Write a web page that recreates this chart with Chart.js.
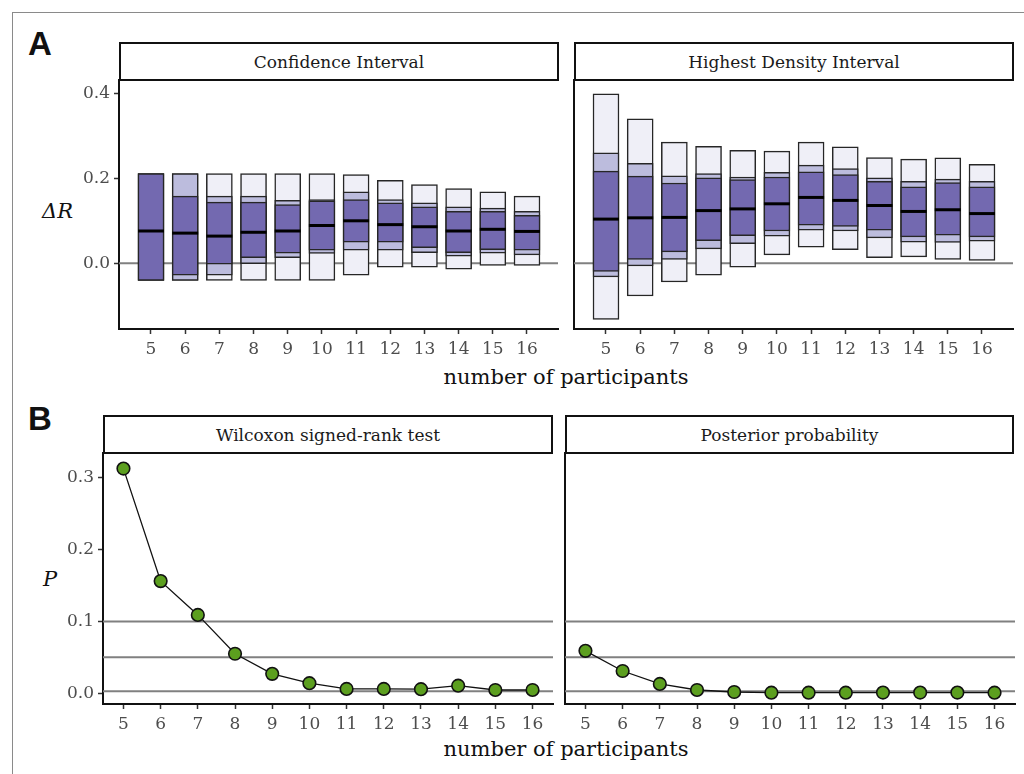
<!DOCTYPE html>
<html>
<head>
<meta charset="utf-8">
<script src="https://cdn.jsdelivr.net/npm/chart.js@4.4.1/dist/chart.umd.min.js"></script>
<style>
  body { margin: 0; background: #fff; width: 1024px; height: 774px; overflow: hidden; position: relative; font-family: 'DejaVu Serif', serif; }
  .frame { position: absolute; left: 12px; top: 12px; width: 1100px; height: 800px; border: 1.5px solid #8a8a8a; }
  .holder { position: absolute; }
  .strip { position: absolute; box-sizing: border-box; border: 2px solid #111; background: #fff; display: flex; align-items: center; justify-content: center; font-size: 17px; color: #1a1a1a; }
  .tag { position: absolute; font-family: 'Liberation Sans', sans-serif; font-weight: bold; font-size: 33px; color: #111; line-height: 1; }
  .xtitle { position: absolute; width: 400px; text-align: center; font-size: 21px; color: #111; line-height: 1; }
  .ytitle { position: absolute; font-style: italic; font-size: 21px; color: #111; line-height: 1; }
</style>
</head>
<body>
<div class="frame"></div>

<div class="tag" style="left:28px; top:27px;">A</div>
<div class="tag" style="left:28px; top:402px;">B</div>

<div class="strip" style="left:119px; top:42px; width:440px; height:39px;">Confidence Interval</div>
<div class="strip" style="left:574px; top:42px; width:440px; height:39px;">Highest Density Interval</div>
<div class="strip" style="left:103px; top:415px; width:450px; height:39px;">Wilcoxon signed-rank test</div>
<div class="strip" style="left:565px; top:415px; width:449px; height:39px;">Posterior probability</div>

<div class="ytitle" style="left:42px; top:201px;">ΔR</div>
<div class="ytitle" style="left:43px; top:569px;">P</div>
<div class="xtitle" style="left:366px; top:367px;">number of participants</div>
<div class="xtitle" style="left:366px; top:739px;">number of participants</div>

<div class="holder" style="left:60px; top:78px;"><canvas id="ci" width="500" height="300"></canvas></div>
<div class="holder" style="left:565px; top:78px;"><canvas id="hdi" width="450" height="300"></canvas></div>
<div class="holder" style="left:44px; top:451px;"><canvas id="wil" width="511" height="300"></canvas></div>
<div class="holder" style="left:556px; top:451px;"><canvas id="post" width="461" height="300"></canvas></div>

<script>
// number of participants on the x axis
const participants = [5, 6, 7, 8, 9, 10, 11, 12, 13, 14, 15, 16];

// ΔR tick values and P tick values
const deltaTicks = [0.0, 0.2, 0.4];
const pTicks = [0.0, 0.1, 0.2, 0.3];

// Confidence interval: outer, middle and inner bounds plus median
const ciOuterLo = [-0.040, -0.040, -0.040, -0.040, -0.040, -0.040, -0.028, -0.009, -0.009, -0.014, -0.005, -0.005];
const ciOuterHi = [0.211, 0.211, 0.211, 0.211, 0.211, 0.211, 0.209, 0.195, 0.185, 0.176, 0.168, 0.158];
const ciMidLo   = [-0.040, -0.040, -0.028, -0.001, 0.013, 0.023, 0.031, 0.031, 0.025, 0.017, 0.024, 0.020];
const ciMidHi   = [0.211, 0.211, 0.158, 0.158, 0.148, 0.150, 0.168, 0.150, 0.142, 0.133, 0.130, 0.122];
const ciInLo    = [-0.040, -0.028, -0.002, 0.013, 0.024, 0.031, 0.050, 0.050, 0.037, 0.025, 0.032, 0.031];
const ciInHi    = [0.211, 0.158, 0.144, 0.144, 0.138, 0.147, 0.150, 0.142, 0.133, 0.122, 0.122, 0.113];
const ciMedian  = [0.076, 0.071, 0.064, 0.073, 0.076, 0.089, 0.100, 0.091, 0.086, 0.076, 0.080, 0.075];

// Highest density interval: outer, middle and inner bounds plus median
const hdiOuterLo = [-0.132, -0.077, -0.044, -0.028, -0.009, 0.020, 0.038, 0.032, 0.013, 0.015, 0.009, 0.007];
const hdiOuterHi = [0.399, 0.340, 0.285, 0.275, 0.266, 0.264, 0.285, 0.274, 0.249, 0.245, 0.248, 0.233];
const hdiMidLo   = [-0.032, -0.006, 0.009, 0.034, 0.046, 0.064, 0.078, 0.076, 0.060, 0.050, 0.049, 0.052];
const hdiMidHi   = [0.260, 0.235, 0.206, 0.211, 0.203, 0.214, 0.231, 0.223, 0.201, 0.193, 0.198, 0.193];
const hdiInLo    = [-0.019, 0.009, 0.027, 0.053, 0.065, 0.076, 0.090, 0.087, 0.078, 0.062, 0.066, 0.062];
const hdiInHi    = [0.217, 0.205, 0.189, 0.201, 0.197, 0.203, 0.215, 0.209, 0.193, 0.180, 0.190, 0.180];
const hdiMedian  = [0.104, 0.107, 0.108, 0.124, 0.128, 0.140, 0.155, 0.148, 0.136, 0.122, 0.126, 0.117];

// p-values per number of participants
const wilcoxonP  = [0.3125, 0.156, 0.109, 0.055, 0.027, 0.014, 0.006, 0.006, 0.0057, 0.0106, 0.0046, 0.0046];
const posteriorP = [0.059, 0.031, 0.013, 0.0046, 0.0018, 0.0008, 0.0008, 0.0008, 0.001, 0.001, 0.001, 0.0008];

// reference lines
const zeroLine = [0];
const thresholds = [0.1, 0.05, 0.003];

const OUTER = '#efeff7', MIDDLE = '#bcbcdd', INNER = '#7369b0';
const TICK_FONT = { family: 'DejaVu Serif', size: 17 };

// horizontal reference lines drawn behind the marks
const refLines = {
  id: 'refLines',
  beforeDatasetsDraw(chart, args, opts) {
    const { ctx, chartArea: a, scales: { y } } = chart;
    ctx.save();
    ctx.strokeStyle = opts.color || '#808080';
    ctx.lineWidth = opts.width || 2;
    (opts.values || []).forEach(v => {
      const py = y.getPixelForValue(v);
      ctx.beginPath();
      ctx.moveTo(a.left, py);
      ctx.lineTo(a.right, py);
      ctx.stroke();
    });
    ctx.restore();
  }
};

function fixedTicks(values) {
  return scale => { scale.ticks = values.map(v => ({ value: v })); };
}

// fixed axis box size, no extra label padding pushed into the plot area
function fixedSize(prop, size) {
  return s => {
    s[prop] = size;
    s.paddingTop = 0; s.paddingBottom = 0; s.paddingLeft = 0; s.paddingRight = 0;
  };
}

function xScale(min, max, height) {
  return {
    type: 'linear', min, max, offset: false,
    afterBuildTicks: fixedTicks(participants),
    afterFit: fixedSize('height', height),
    ticks: { color: '#4d4d4d', font: TICK_FONT, padding: 5, maxRotation: 0, autoSkip: false, callback: v => String(v) },
    grid: { offset: false, drawOnChartArea: false, drawTicks: true, tickLength: 5, tickWidth: 1.5, tickColor: '#333', color: 'rgba(0,0,0,0)' },
    border: { display: true, color: '#111', width: 2 }
  };
}

function yScale(min, max, tickVals, width, showLabels) {
  return {
    type: 'linear', min, max,
    afterBuildTicks: fixedTicks(tickVals),
    afterFit: fixedSize('width', width),
    ticks: { display: showLabels, color: '#4d4d4d', font: TICK_FONT, padding: 4, callback: v => Number(v).toFixed(1) },
    grid: { drawOnChartArea: false, drawTicks: showLabels, tickLength: 5, tickWidth: 1.5, tickColor: '#333', color: 'rgba(0,0,0,0)' },
    border: { display: true, color: '#111', width: 2 }
  };
}

function intervalSet(lo, hi, color, order) {
  return {
    type: 'bar',
    data: participants.map((n, i) => ({ x: n, y: [lo[i], hi[i]] })),
    backgroundColor: color,
    borderColor: '#262626',
    borderWidth: 1.5,
    borderSkipped: false,
    barThickness: 26,
    grouped: false,
    order
  };
}

function medianSet(med) {
  return {
    type: 'line',
    data: participants.map((n, i) => ({ x: n, y: med[i] })),
    showLine: false,
    pointStyle: 'line',
    pointRadius: 13,
    pointBorderWidth: 3,
    pointBorderColor: '#000',
    pointBackgroundColor: '#000',
    order: 0
  };
}

const LAYOUT = { autoPadding: false, padding: { top: 2, right: 2, left: 0, bottom: 0 } };

function intervalChart(id, sets, showY, yWidth) {
  return new Chart(document.getElementById(id), {
    type: 'bar',
    data: {
      datasets: [
        intervalSet(sets.outerLo, sets.outerHi, OUTER, 3),
        intervalSet(sets.midLo, sets.midHi, MIDDLE, 2),
        intervalSet(sets.inLo, sets.inHi, INNER, 1),
        medianSet(sets.median)
      ]
    },
    options: {
      responsive: false, animation: false, devicePixelRatio: 1,
      layout: LAYOUT,
      plugins: { legend: { display: false }, tooltip: { enabled: false }, refLines: { values: zeroLine, color: '#808080', width: 2 } },
      scales: {
        x: xScale(4.064, 16.907, 49),
        y: yScale(-0.1546, 0.4313, deltaTicks, yWidth, showY)
      }
    },
    plugins: [refLines]
  });
}

function pChart(id, values, showY, yWidth) {
  return new Chart(document.getElementById(id), {
    type: 'line',
    data: {
      datasets: [{
        data: participants.map((n, i) => ({ x: n, y: values[i] })),
        borderColor: '#111',
        borderWidth: 1.3,
        pointRadius: 6.3,
        pointBorderWidth: 1.6,
        pointBorderColor: '#111',
        pointBackgroundColor: '#5c9f1f',
        tension: 0
      }]
    },
    options: {
      responsive: false, animation: false, devicePixelRatio: 1,
      layout: LAYOUT,
      plugins: { legend: { display: false }, tooltip: { enabled: false }, refLines: { values: thresholds, color: '#808080', width: 2 } },
      scales: {
        x: xScale(4.45, 16.55, 47),
        y: yScale(-0.0149, 0.3342, pTicks, yWidth, showY)
      }
    },
    plugins: [refLines]
  });
}

intervalChart('ci', { outerLo: ciOuterLo, outerHi: ciOuterHi, midLo: ciMidLo, midHi: ciMidHi, inLo: ciInLo, inHi: ciInHi, median: ciMedian }, true, 59);
intervalChart('hdi', { outerLo: hdiOuterLo, outerHi: hdiOuterHi, midLo: hdiMidLo, midHi: hdiMidHi, inLo: hdiInLo, inHi: hdiInHi, median: hdiMedian }, false, 9);
pChart('wil', wilcoxonP, true, 59);
pChart('post', posteriorP, false, 9);
</script>
</body>
</html>
